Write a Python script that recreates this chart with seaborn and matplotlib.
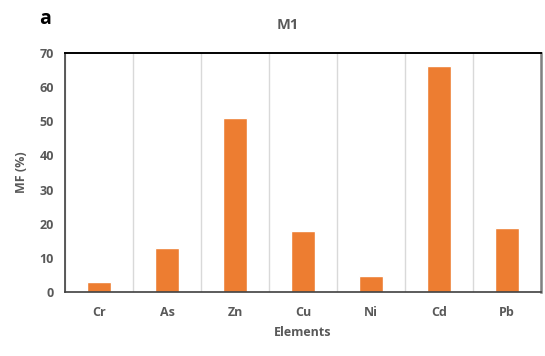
import matplotlib
matplotlib.use("Agg")
import matplotlib.pyplot as plt
import seaborn as sns
import pandas as pd
import numpy as np

elements = ["Cr", "As", "Zn", "Cu", "Ni", "Cd", "Pb"]
mf_values = [2.9, 12.8, 51.0, 17.9, 4.7, 66.2, 18.7]
y_ticks = [0, 10, 20, 30, 40, 50, 60, 70]

sns.set_theme(style="white")
plt.rcParams["font.family"] = ["Open Sans", "DejaVu Sans"]

df = pd.DataFrame({"Elements": elements, "MF": mf_values})

fig = plt.figure(figsize=(5.45, 3.56), dpi=100)
ax = fig.add_axes([65 / 545, (356 - 292) / 356, (541 - 65) / 545, (292 - 53) / 356])

sns.barplot(data=df, x="Elements", y="MF", color="#ED7D31", saturation=1,
            width=0.34, ax=ax)

ax.set_xlim(-0.5, len(elements) - 0.5)
ax.set_ylim(0, 70)
ax.set_yticks(y_ticks)

# category separators
ax.set_xticks(np.arange(-0.5, len(elements), 1.0), minor=True)
ax.grid(axis="x", which="minor", color="#D9D9D9", linewidth=1.0)
ax.grid(axis="x", which="major", visible=False)
ax.grid(axis="y", visible=False)
ax.set_axisbelow(True)

text_color = "#595959"
fs = 9
ax.tick_params(axis="y", which="major", direction="out", length=5, width=1,
               color="#404040", labelsize=fs, labelcolor=text_color, pad=3)
ax.tick_params(axis="x", which="both", length=0, labelsize=fs,
               labelcolor=text_color, pad=10)
for lbl in ax.get_xticklabels() + ax.get_yticklabels():
    lbl.set_fontweight("bold")

for side in ["left", "bottom"]:
    ax.spines[side].set_color("#404040")
    ax.spines[side].set_linewidth(1.2)
ax.spines["top"].set_color("#000000")
ax.spines["top"].set_linewidth(1.4)
ax.spines["right"].set_color("#808080")
ax.spines["right"].set_linewidth(1.8)

ax.set_xlabel("Elements", fontsize=fs, fontweight="bold", color=text_color, labelpad=5)
ax.set_ylabel("MF (%)", fontsize=fs, fontweight="bold", color=text_color, labelpad=8)

fig.text(288 / 545, 1 - 25 / 356, "M1", ha="center", va="center",
         fontsize=10.5, fontweight="bold", color=text_color)
fig.text(45 / 545, 1 - 19 / 356, "a", ha="center", va="center",
         fontsize=14, fontweight="bold", color="#000000")

fig.savefig("out.png", dpi=100)
